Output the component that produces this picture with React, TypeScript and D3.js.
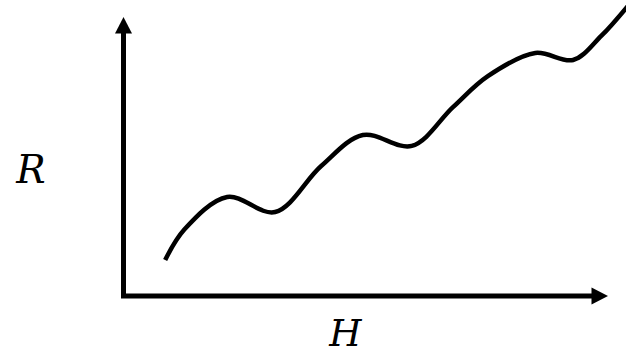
import React from "react";
import * as d3 from "d3";

// Key points of the response curve R(H), in axis units (0–100 on each axis)
const hValues = [8.6, 12.6, 21.4, 31.3, 40.8, 49.4, 59.5, 68.0, 75.2, 85.0, 92.8, 98.6, 104.5];
const rValues = [12.9, 23.9, 35.5, 30.1, 46.6, 57.7, 53.8, 67.7, 78.8, 87.1, 84.6, 93.2, 104.8];

const xLabel = "H";
const yLabel = "R";

const W = 626;
const H = 355;

export default function App() {
  const x = d3.scaleLinear().domain([0, 100]).range([123.5, 608]);
  const y = d3.scaleLinear().domain([0, 100]).range([296, 17]);

  const pts: [number, number][] = hValues.map((h, i) => [h, rValues[i]]);
  const line = d3
    .line<[number, number]>()
    .x((d) => x(d[0]))
    .y((d) => y(d[1]))
    .curve(d3.curveCatmullRom.alpha(0.5));

  const x0 = x(0);
  const y0 = y(0);
  const xTip = x(100);
  const yTip = y(100);
  const head = 15.5;
  const half = 8.5;

  return (
    <svg
      width={W}
      height={H}
      style={{ position: "absolute", left: 0, top: 0, background: "#fff" }}
    >
      <defs>
        <clipPath id="plot">
          <rect x={0} y={0} width={W} height={H} />
        </clipPath>
      </defs>
      {/* axes */}
      <path
        d={`M${x0},${yTip + head} L${x0},${y0} L${xTip - head},${y0}`}
        fill="none"
        stroke="#000"
        strokeWidth={5}
        strokeLinejoin="miter"
        strokeLinecap="square"
      />
      <path
        d={`M${x0},${yTip} L${x0 - half},${yTip + head + 1} L${x0 + half},${yTip + head + 1} Z`}
        fill="#000"
      />
      <path
        d={`M${xTip},${y0} L${xTip - head - 1},${y0 - half} L${xTip - head - 1},${y0 + half} Z`}
        fill="#000"
      />
      {/* curve */}
      <path
        d={line(pts) || ""}
        fill="none"
        stroke="#000"
        strokeWidth={4.5}
        strokeLinecap="butt"
        clipPath="url(#plot)"
      />
      {/* axis labels */}
      <text
        x={31}
        y={183}
        textAnchor="middle"
        fontFamily="'DejaVu Serif', serif"
        fontStyle="italic"
        fontSize={39}
        fill="#000"
      >
        {yLabel}
      </text>
      <text
        x={345.5}
        y={346}
        textAnchor="middle"
        fontFamily="'DejaVu Serif', serif"
        fontStyle="italic"
        fontSize={37}
        fill="#000"
      >
        {xLabel}
      </text>
    </svg>
  );
}
